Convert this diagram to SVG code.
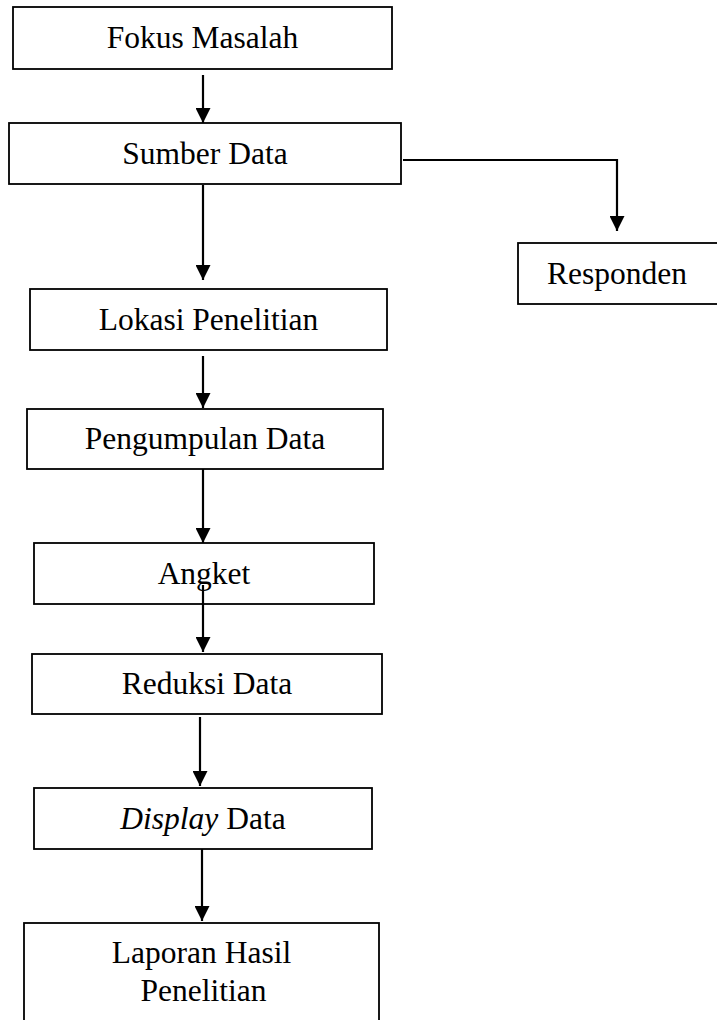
<svg xmlns="http://www.w3.org/2000/svg" width="717" height="1020" viewBox="0 0 717 1020">
<defs>
<style>
.box{fill:#fff;stroke:#000;stroke-width:1.8}
.lbl{font-family:"Liberation Serif","Times New Roman",serif;font-size:31.5px;fill:#000;text-anchor:middle}
.con{fill:none;stroke:#000;stroke-width:2.2}
</style>
<marker id="ah" markerUnits="userSpaceOnUse" markerWidth="16" markerHeight="15" refX="15" refY="7.5" orient="auto" viewBox="0 0 15 15">
<path d="M0,0 L15,7.5 L0,15 Z" fill="#000"/>
</marker>
</defs>
<rect width="717" height="1020" fill="#fff"/>
<g id="n-fokus"><rect class="box" x="13" y="7" width="379" height="62"/><text class="lbl" x="202.5" y="48">Fokus Masalah</text></g>
<g id="n-sumber"><rect class="box" x="9" y="123" width="392" height="61"/><text class="lbl" x="205" y="163.5">Sumber Data</text></g>
<g id="n-responden"><rect class="box" x="518" y="243" width="201" height="61"/><text class="lbl" x="617" y="283.5">Responden</text></g>
<g id="n-lokasi"><rect class="box" x="30" y="289" width="357" height="61"/><text class="lbl" x="208.5" y="329.5">Lokasi Penelitian</text></g>
<g id="n-pengumpulan"><rect class="box" x="27" y="409" width="356" height="60"/><text class="lbl" x="205" y="449">Pengumpulan Data</text></g>
<g id="n-angket"><rect class="box" x="34" y="543" width="340" height="61"/><text class="lbl" x="204" y="583.5">Angket</text></g>
<g id="n-reduksi"><rect class="box" x="32" y="654" width="350" height="60"/><text class="lbl" x="207" y="694">Reduksi Data</text></g>
<g id="n-display"><rect class="box" x="34" y="788" width="338" height="61"/><text class="lbl" x="203" y="828.5"><tspan font-style="italic">Display</tspan> Data</text></g>
<g id="n-laporan"><rect class="box" x="24" y="923" width="355" height="110"/><text class="lbl" x="201.5" y="963">Laporan Hasil</text><text class="lbl" x="203.5" y="1000.5">Penelitian</text></g>
<g id="connectors">
<path class="con" d="M203,75 V123" marker-end="url(#ah)"/>
<path class="con" d="M203,185 V280" marker-end="url(#ah)"/>
<path class="con" d="M403,160 H617 V231" marker-end="url(#ah)"/>
<path class="con" d="M203,356 V408" marker-end="url(#ah)"/>
<path class="con" d="M203,469 V543" marker-end="url(#ah)"/>
<path class="con" d="M203,585 V652" marker-end="url(#ah)"/>
<path class="con" d="M200,717 V786" marker-end="url(#ah)"/>
<path class="con" d="M202,849 V921" marker-end="url(#ah)"/>
</g>
</svg>
